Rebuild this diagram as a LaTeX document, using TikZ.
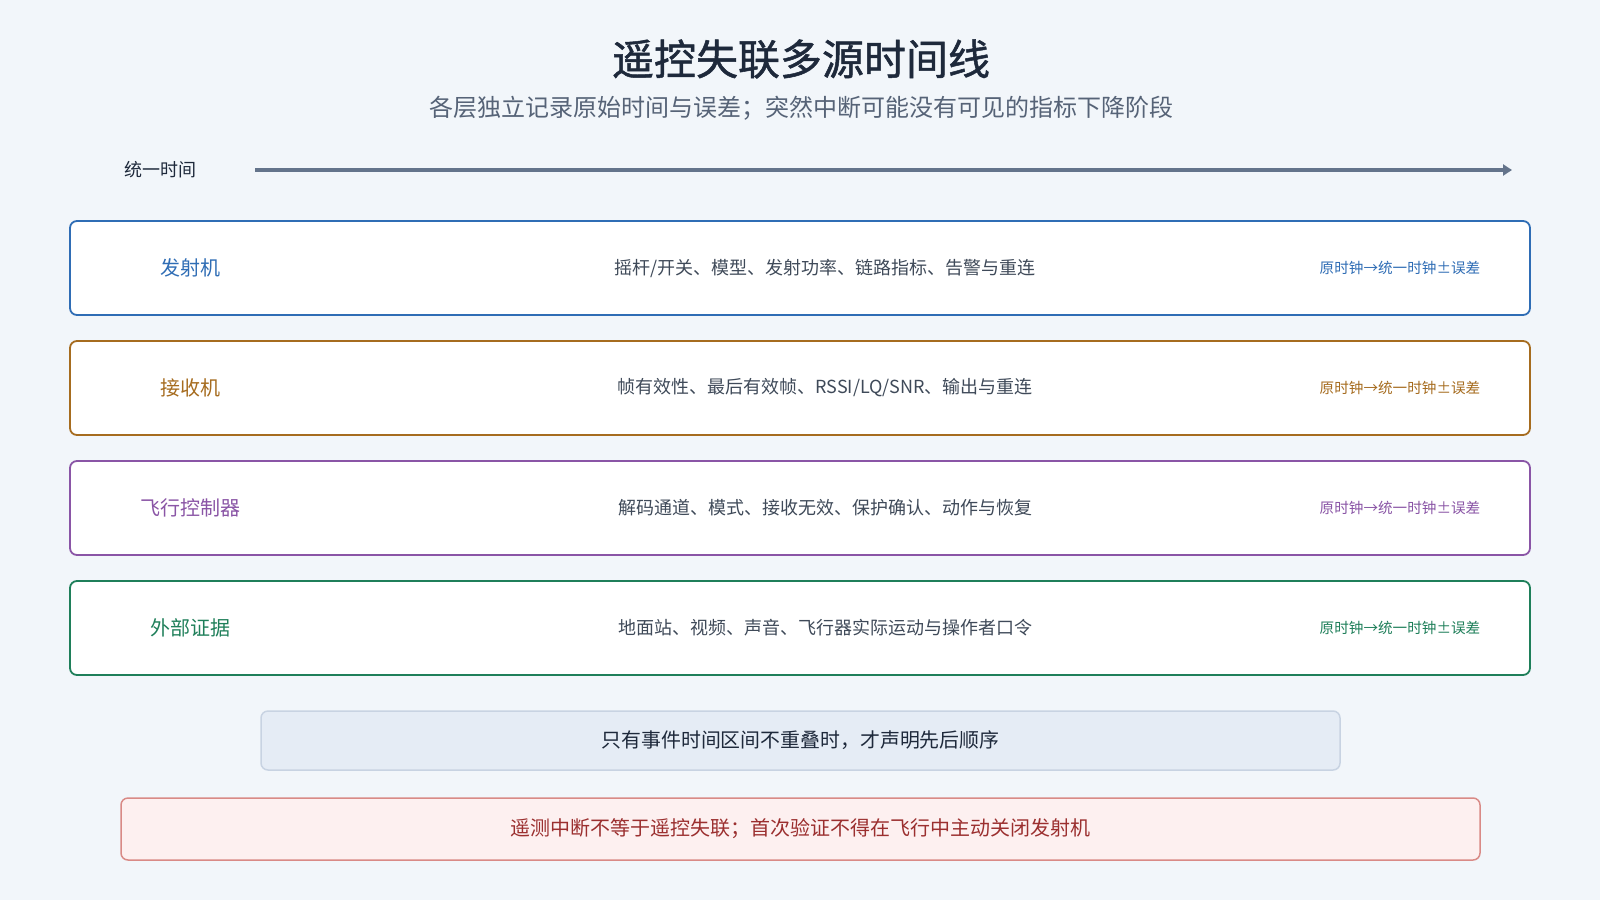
\documentclass[tikz,border=0pt]{standalone}
\usepackage{fontspec}
\setmainfont{Noto Sans CJK SC}
\newfontfamily\titlefont[FakeBold=1.2]{Noto Sans CJK SC}
\usepackage{xcolor}
\usepackage{tikz}
\usetikzlibrary{positioning, calc, arrows.meta}

\definecolor{bgpage}{HTML}{F2F6FA}
\definecolor{ink}{HTML}{1E293B}
\definecolor{subink}{HTML}{566377}
\definecolor{bodyink}{HTML}{3F4A59}
\definecolor{axisgray}{HTML}{64748B}
\definecolor{txblue}{HTML}{2F6DB5}
\definecolor{rxbrown}{HTML}{A66C1F}
\definecolor{fcpurple}{HTML}{8A55A6}
\definecolor{exgreen}{HTML}{1F7F5A}
\definecolor{notefill}{HTML}{E5ECF5}
\definecolor{notedraw}{HTML}{C8D3E2}
\definecolor{warnfill}{HTML}{FDF0F0}
\definecolor{warndraw}{HTML}{D98A86}
\definecolor{warnink}{HTML}{9B2F2F}

\tikzset{
  layer/.style={draw=#1, line width=1.8pt, fill=white, rounded corners=7pt,
    minimum width=1460pt, minimum height=94pt, inner sep=0pt},
  layername/.style={text=#1, font=\fontsize{20}{24}\selectfont},
  layerbody/.style={text=bodyink, font=\fontsize{18}{22}\selectfont},
  layerclock/.style={text=#1, font=\fontsize{14.6}{18}\selectfont},
}

\begin{document}
\begin{tikzpicture}[x=1pt,y=-1pt]
    \def\lx{190}
    \def\mx{825}
    \def\rx{1400}

    \fill[bgpage] (0,0) rectangle (1600,900);
    \useasboundingbox (0,0) rectangle (1600,900);

    \node[text=ink, font=\fontsize{42}{48}\selectfont\titlefont] (title) at (801,59) {遥控失联多源时间线};
    \node[text=subink, font=\fontsize{24}{28}\selectfont] (subtitle) at (801,108) {各层独立记录原始时间与误差；突然中断可能没有可见的指标下降阶段};

    \node[text=ink, font=\fontsize{18}{22}\selectfont] (axislabel) at (160,170) {统一时间};
    \coordinate (axisstart) at (255,170);
    \coordinate (axisend) at (1512,170);
    \draw[axisgray, line width=3.5pt, -{Triangle[length=9pt,width=11pt]}] (axisstart) -- (axisend);

    \node[layer=txblue] (tx) at (800,268) {};
    \node[layername=txblue] (txname) at (\lx,268) {发射机};
    \node[layerbody] (txbody) at (\mx,268) {摇杆/开关、模型、发射功率、链路指标、告警与重连};
    \node[layerclock=txblue] (txclock) at (\rx,268) {原时钟→统一时钟±误差};

    \node[layer=rxbrown] (rx) at (800,388) {};
    \node[layername=rxbrown] (rxname) at (\lx,388) {接收机};
    \node[layerbody] (rxbody) at (\mx,388) {帧有效性、最后有效帧、RSSI/LQ/SNR、输出与重连};
    \node[layerclock=rxbrown] (rxclock) at (\rx,388) {原时钟→统一时钟±误差};

    \node[layer=fcpurple] (fc) at (800,508) {};
    \node[layername=fcpurple] (fcname) at (\lx,508) {飞行控制器};
    \node[layerbody] (fcbody) at (\mx,508) {解码通道、模式、接收无效、保护确认、动作与恢复};
    \node[layerclock=fcpurple] (fcclock) at (\rx,508) {原时钟→统一时钟±误差};

    \node[layer=exgreen] (ex) at (800,628) {};
    \node[layername=exgreen] (exname) at (\lx,628) {外部证据};
    \node[layerbody] (exbody) at (\mx,628) {地面站、视频、声音、飞行器实际运动与操作者口令};
    \node[layerclock=exgreen] (exclock) at (\rx,628) {原时钟→统一时钟±误差};

    \node[draw=notedraw, fill=notefill, line width=1.5pt, rounded corners=7pt, minimum width=1079pt, minimum height=59pt,
      text=ink, font=\fontsize{19.9}{23}\selectfont] (order) at (800.5,740.5) {只有事件时间区间不重叠时，才声明先后顺序};

    \node[draw=warndraw, fill=warnfill, line width=1.5pt, rounded corners=7pt, minimum width=1359pt, minimum height=62pt,
      text=warnink, font=\fontsize{20}{23}\selectfont] (warn) at (800.5,829) {遥测中断不等于遥控失联；首次验证不得在飞行中主动关闭发射机};
  \end{tikzpicture}
\end{document}
